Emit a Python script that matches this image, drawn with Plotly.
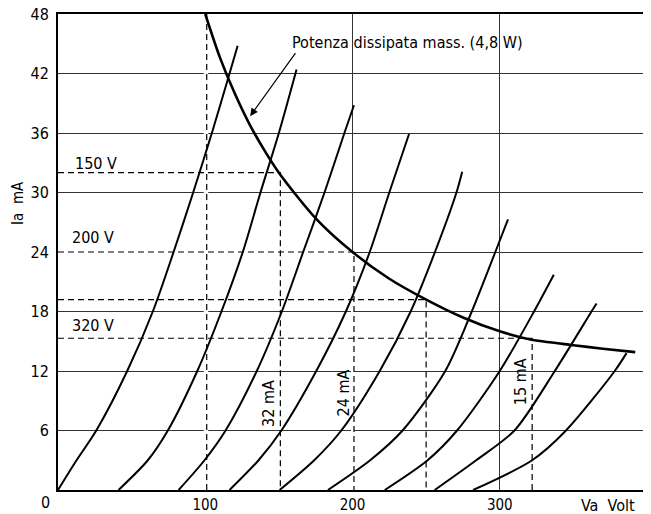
import plotly.graph_objects as go

# ---- data ----
curve_x = [
    [0, 12.6, 26, 47, 64.4, 78.5, 91.8, 104.5, 116.5, 122],
    [41.1, 61, 74.6, 94.6, 111, 125.5, 137.5, 150, 162],
    [81.9, 99.5, 113.8, 135, 152, 166.5, 181, 194.5, 201],
    [116.5, 136.2, 151.7, 175.4, 195.5, 211.7, 225, 238.4],
    [150.5, 174, 192.4, 218.5, 239.5, 256, 270.6, 274.5],
    [183.3, 212, 234, 263, 281, 297, 305.6],
    [221.9, 251, 271, 300, 323.3, 336.7],
    [255.8, 284, 310, 337.4, 362.3, 365.7],
    [281.9, 322, 345, 378.1, 386.1],
]
curve_y = [
    [0, 3, 6, 12, 18, 24, 30, 36, 42, 44.8],
    [0, 3, 6, 12, 18, 24, 30, 36, 42.4],
    [0, 3, 6, 12, 18, 24, 30, 36, 38.8],
    [0, 3, 6, 12, 18, 24, 30, 35.9],
    [0, 3, 6, 12, 18, 24, 30, 32.1],
    [0, 3, 6, 12, 18, 24, 27.3],
    [0, 3, 6, 12, 18, 21.7],
    [0, 3, 6, 12, 18, 18.8],
    [0, 3, 6, 12, 13.8],
]

pmax_x = [100, 110, 120, 130, 140, 150, 175, 200, 225, 250, 275, 300, 320, 350, 370, 392]
pmax_y = [48, 43.6, 40, 36.9, 34.3, 32, 27.4, 24, 21.3, 19.2, 17.4, 16, 15.2, 14.6, 14.25, 13.9]

# dashed construction lines: (x_end, y_level)
work_va = [101, 151, 201, 250, 322]
work_ia = [48, 32, 24, 19.2, 15.3]

volt_labels = ["150 V", "200 V", "320 V"]
volt_label_x = [26, 24, 24]
volt_label_y = [32.9, 25.5, 16.6]

ma_labels = ["32 mA", "24 mA", "15 mA"]
ma_label_x = [143.4, 194, 314.6]
ma_label_y = [8.7, 9.8, 10.9]

x_ticks = [100, 200, 300]
x_ticktext = ["100", "200", "300"]
y_ticks = [6, 12, 18, 24, 30, 36, 42, 48]
y_ticktext = ["6", "12", "18", "24", "30", "36", "42", "48"]

title_text = "Potenza dissipata mass. (4,8 W)"

FONT = "DejaVu Sans Condensed, Liberation Sans Narrow, DejaVu Sans, sans-serif"

fig = go.Figure()

# white underlays where grid lines are replaced by dashed lines
fig.add_trace(go.Scatter(x=[101, 101, None, 100, 100], y=[0, 48, None, 0, 48], mode="lines",
                         line=dict(color="white", width=3), hoverinfo="skip", showlegend=False))
fig.add_trace(go.Scatter(x=[200, 200, None, 0, 200], y=[0, 24, None, 24, 24], mode="lines",
                         line=dict(color="white", width=3), hoverinfo="skip", showlegend=False))

# dashed lines
for i, (va, ia) in enumerate(zip(work_va, work_ia)):
    if i == 0:
        xs, ys = [va, va], [0, ia]
    else:
        xs, ys = [0, va, va], [ia, ia, 0]
    fig.add_trace(go.Scatter(x=xs, y=ys, mode="lines",
                             line=dict(color="black", width=1.2, dash="6px,4px"),
                             hoverinfo="skip", showlegend=False))

# characteristic curves
for cx, cy in zip(curve_x, curve_y):
    fig.add_trace(go.Scatter(x=cx, y=cy, mode="lines", line_shape="spline",
                             line=dict(color="black", width=2, smoothing=0.8), showlegend=False))

# max dissipation curve
fig.add_trace(go.Scatter(x=pmax_x, y=pmax_y, mode="lines", line_shape="spline",
                         line=dict(color="black", width=2.6, smoothing=0.8), showlegend=False))

tf = dict(family=FONT, size=16, color="black")
annotations = []
annotations.append(dict(x=130.5, y=37.7, ax=162, ay=44.2, xref="x", yref="y", axref="x", ayref="y",
                        text="", showarrow=True, arrowhead=2, arrowsize=1.3, arrowwidth=1.2,
                        arrowcolor="black"))
annotations.append(dict(x=157.5, y=45.1, xref="x", yref="y", text=title_text, showarrow=False,
                        xanchor="left", yanchor="middle", font=tf))
for t, x, y in zip(volt_labels, volt_label_x, volt_label_y):
    annotations.append(dict(x=x, y=y, xref="x", yref="y", text=t, showarrow=False, font=tf))
for t, x, y in zip(ma_labels, ma_label_x, ma_label_y):
    annotations.append(dict(x=x, y=y, xref="x", yref="y", text=t, showarrow=False, textangle=-90,
                            font=tf))
annotations.append(dict(x=-0.022, y=-0.027, xref="paper", yref="paper", text="0", showarrow=False,
                        xanchor="center", yanchor="middle", font=tf))
annotations.append(dict(x=0.933, y=-0.032, xref="paper", yref="paper", text="Va  Volt",
                        showarrow=False, xanchor="center", yanchor="middle", font=tf))
annotations.append(dict(x=-0.068, y=0.603, xref="paper", yref="paper", text="Ia  mA",
                        showarrow=False, textangle=-90, xanchor="center", yanchor="middle",
                        font=dict(family=FONT, size=15, color="black")))

# the page body adds an 8 px offset, so margins are shifted by 8 px
fig.update_layout(
    width=651, height=514,
    margin=dict(l=50, r=12, t=6, b=32),
    paper_bgcolor="white", plot_bgcolor="white",
    showlegend=False,
    font=tf,
    annotations=annotations,
    xaxis=dict(range=[0, 400], tickvals=x_ticks, ticktext=x_ticktext, showgrid=True,
               gridcolor="#333", gridwidth=1, zeroline=False, showline=True, mirror=True,
               linecolor="black", linewidth=2, ticks="", automargin=False,
               tickfont=dict(family=FONT, size=15)),
    yaxis=dict(range=[0, 48], tickvals=y_ticks, ticktext=y_ticktext, showgrid=True,
               gridcolor="#333", gridwidth=1, zeroline=False, showline=True,
               linecolor="black", linewidth=2, ticks="", ticklabelstandoff=4, automargin=False,
               ticklabeloverflow="allow", tickfont=dict(family=FONT, size=16)),
)

fig.write_html("out.html")
